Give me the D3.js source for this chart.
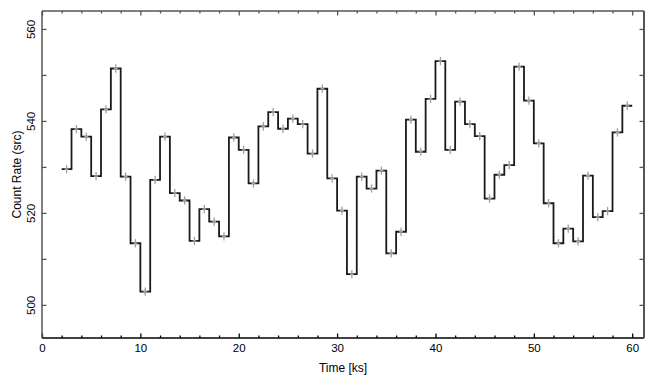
<!DOCTYPE html>
<html>
<head>
<meta charset="utf-8">
<script src="https://cdn.jsdelivr.net/npm/d3@7"></script>
<style>
  html, body { margin: 0; padding: 0; background: #fff; }
  svg { display: block; font-family: "Liberation Sans", Arial, Helvetica, sans-serif; }
</style>
</head>
<body>
<svg id="chart" width="655" height="385"></svg>
<script>
// ---- data ----
const binCenters = [2.5,3.5,4.5,5.5,6.5,7.5,8.5,9.5,10.5,11.5,12.5,13.5,14.5,15.5,16.5,17.5,18.5,19.5,20.5,21.5,
  22.5,23.5,24.5,25.5,26.5,27.5,28.5,29.5,30.5,31.5,32.5,33.5,34.5,35.5,36.5,37.5,38.5,39.5,40.5,41.5,
  42.5,43.5,44.5,45.5,46.5,47.5,48.5,49.5,50.5,51.5,52.5,53.5,54.5,55.5,56.5,57.5,58.5,59.5];
const binHalfWidth = 0.5;
const rates = [529.5,538.2,536.6,528.0,542.5,551.4,527.9,513.4,502.9,527.2,
  536.6,524.3,522.7,513.9,520.8,518.1,514.9,536.4,533.7,526.4,
  538.8,541.9,538.3,540.5,539.3,532.9,547.0,527.5,520.5,506.7,
  527.9,525.3,529.2,511.2,515.9,540.3,533.3,544.8,553.0,533.7,
  544.2,539.3,536.7,523.1,528.3,530.4,551.8,544.4,535.1,522.1,
  513.4,516.6,513.8,528.1,519.1,520.4,537.5,543.3];
const rateErr = 0.9;
const xMajorTicks = [0,10,20,30,40,50,60];
const xMinorTicks = [2,4,6,8,12,14,16,18,22,24,26,28,32,34,36,38,42,44,46,48,52,54,56,58];
const yMajorTicks = [500,520,540,560];
const yMinorTicks = [510,530,550];
const xLabel = "Time [ks]";
const yLabel = "Count Rate (src)";

// ---- layout ----
const L = 42, R = 644, T = 11, B = 338;
const svg = d3.select("#chart");
const x = d3.scaleLinear().domain([0, 61.2]).range([L, R]);
const y = d3.scaleLinear().domain([492.8, 563.9]).range([B, T]);

// step line
const pts = [];
binCenters.forEach((c, i) => {
  pts.push([c - binHalfWidth, rates[i]]);
  pts.push([c + binHalfWidth, rates[i]]);
});
const line = d3.line().x(d => x(d[0])).y(d => y(d[1]));
svg.append("path").attr("d", line(pts))
  .attr("fill", "none").attr("stroke", "#1a1a1a").attr("stroke-width", 1.8)
  .attr("stroke-linejoin", "miter");

// error bars
const eb = svg.append("g").attr("stroke", "#a0a0a0").attr("stroke-width", 1.3);
binCenters.forEach((c, i) => {
  eb.append("line").attr("x1", x(c)).attr("x2", x(c))
    .attr("y1", y(rates[i] - rateErr)).attr("y2", y(rates[i] + rateErr));
  eb.append("line").attr("x1", x(c - 0.2)).attr("x2", x(c + 0.2))
    .attr("y1", y(rates[i])).attr("y2", y(rates[i]));
});

// axes
function styleAxis(g, color, width) {
  g.select(".domain").remove();
  g.selectAll(".tick line").attr("stroke", color).attr("stroke-width", width);
}
const gxB = svg.append("g").attr("transform", `translate(0,${B})`)
  .call(d3.axisBottom(x).tickValues(xMajorTicks).tickSize(-4.5).tickFormat(d3.format("d")));
styleAxis(gxB, "#000", 1.3);
gxB.selectAll("text").attr("y", 0).attr("dy", 0).attr("transform", "translate(0,14)")
  .attr("font-size", 11.5).attr("fill", "#000").attr("font-family", null);
const gxBm = svg.append("g").attr("transform", `translate(0,${B})`)
  .call(d3.axisBottom(x).tickValues(xMinorTicks).tickSize(-2.5).tickFormat(""));
styleAxis(gxBm, "#000", 1.3);

const gxT = svg.append("g").attr("transform", `translate(0,${T})`)
  .call(d3.axisTop(x).tickValues(xMajorTicks).tickSize(-4.5).tickFormat(""));
styleAxis(gxT, "#555", 1.3);
const gxTm = svg.append("g").attr("transform", `translate(0,${T})`)
  .call(d3.axisTop(x).tickValues(xMinorTicks).tickSize(-2.5).tickFormat(""));
styleAxis(gxTm, "#555", 1.3);

const gyL = svg.append("g").attr("transform", `translate(${L},0)`)
  .call(d3.axisLeft(y).tickValues(yMajorTicks).tickSize(-4.5).tickFormat(d3.format("d")));
styleAxis(gyL, "#555", 1.3);
gyL.selectAll("text")
  .attr("x", null).attr("dy", null).attr("text-anchor", "middle")
  .attr("font-size", 11.5).attr("fill", "#000").attr("font-family", null)
  .attr("transform", d => `translate(${35 - L},0) rotate(-90)`);
const gyLm = svg.append("g").attr("transform", `translate(${L},0)`)
  .call(d3.axisLeft(y).tickValues(yMinorTicks).tickSize(-4.5).tickFormat(""));
styleAxis(gyLm, "#555", 1.3);

const gyR = svg.append("g").attr("transform", `translate(${R},0)`)
  .call(d3.axisRight(y).tickValues(yMajorTicks.concat(yMinorTicks)).tickSize(-4.5).tickFormat(""));
styleAxis(gyR, "#555", 1.3);

// frame
svg.append("line").attr("x1", L).attr("x2", R).attr("y1", T).attr("y2", T).attr("stroke", "#555").attr("stroke-width", 1.5);
svg.append("line").attr("x1", L).attr("x2", R).attr("y1", B).attr("y2", B).attr("stroke", "#000").attr("stroke-width", 1.5);
svg.append("line").attr("x1", L).attr("x2", L).attr("y1", T).attr("y2", B).attr("stroke", "#555").attr("stroke-width", 1.5);
svg.append("line").attr("x1", R).attr("x2", R).attr("y1", T).attr("y2", B).attr("stroke", "#555").attr("stroke-width", 2);

// labels
svg.append("text").attr("x", (L + R) / 2).attr("y", 372).attr("text-anchor", "middle")
  .attr("font-size", 12).attr("fill", "#000").text(xLabel);
svg.append("text").attr("transform", `translate(21,${(T + B) / 2}) rotate(-90)`)
  .attr("text-anchor", "middle").attr("font-size", 12).attr("fill", "#000").text(yLabel);
</script>
</body>
</html>
